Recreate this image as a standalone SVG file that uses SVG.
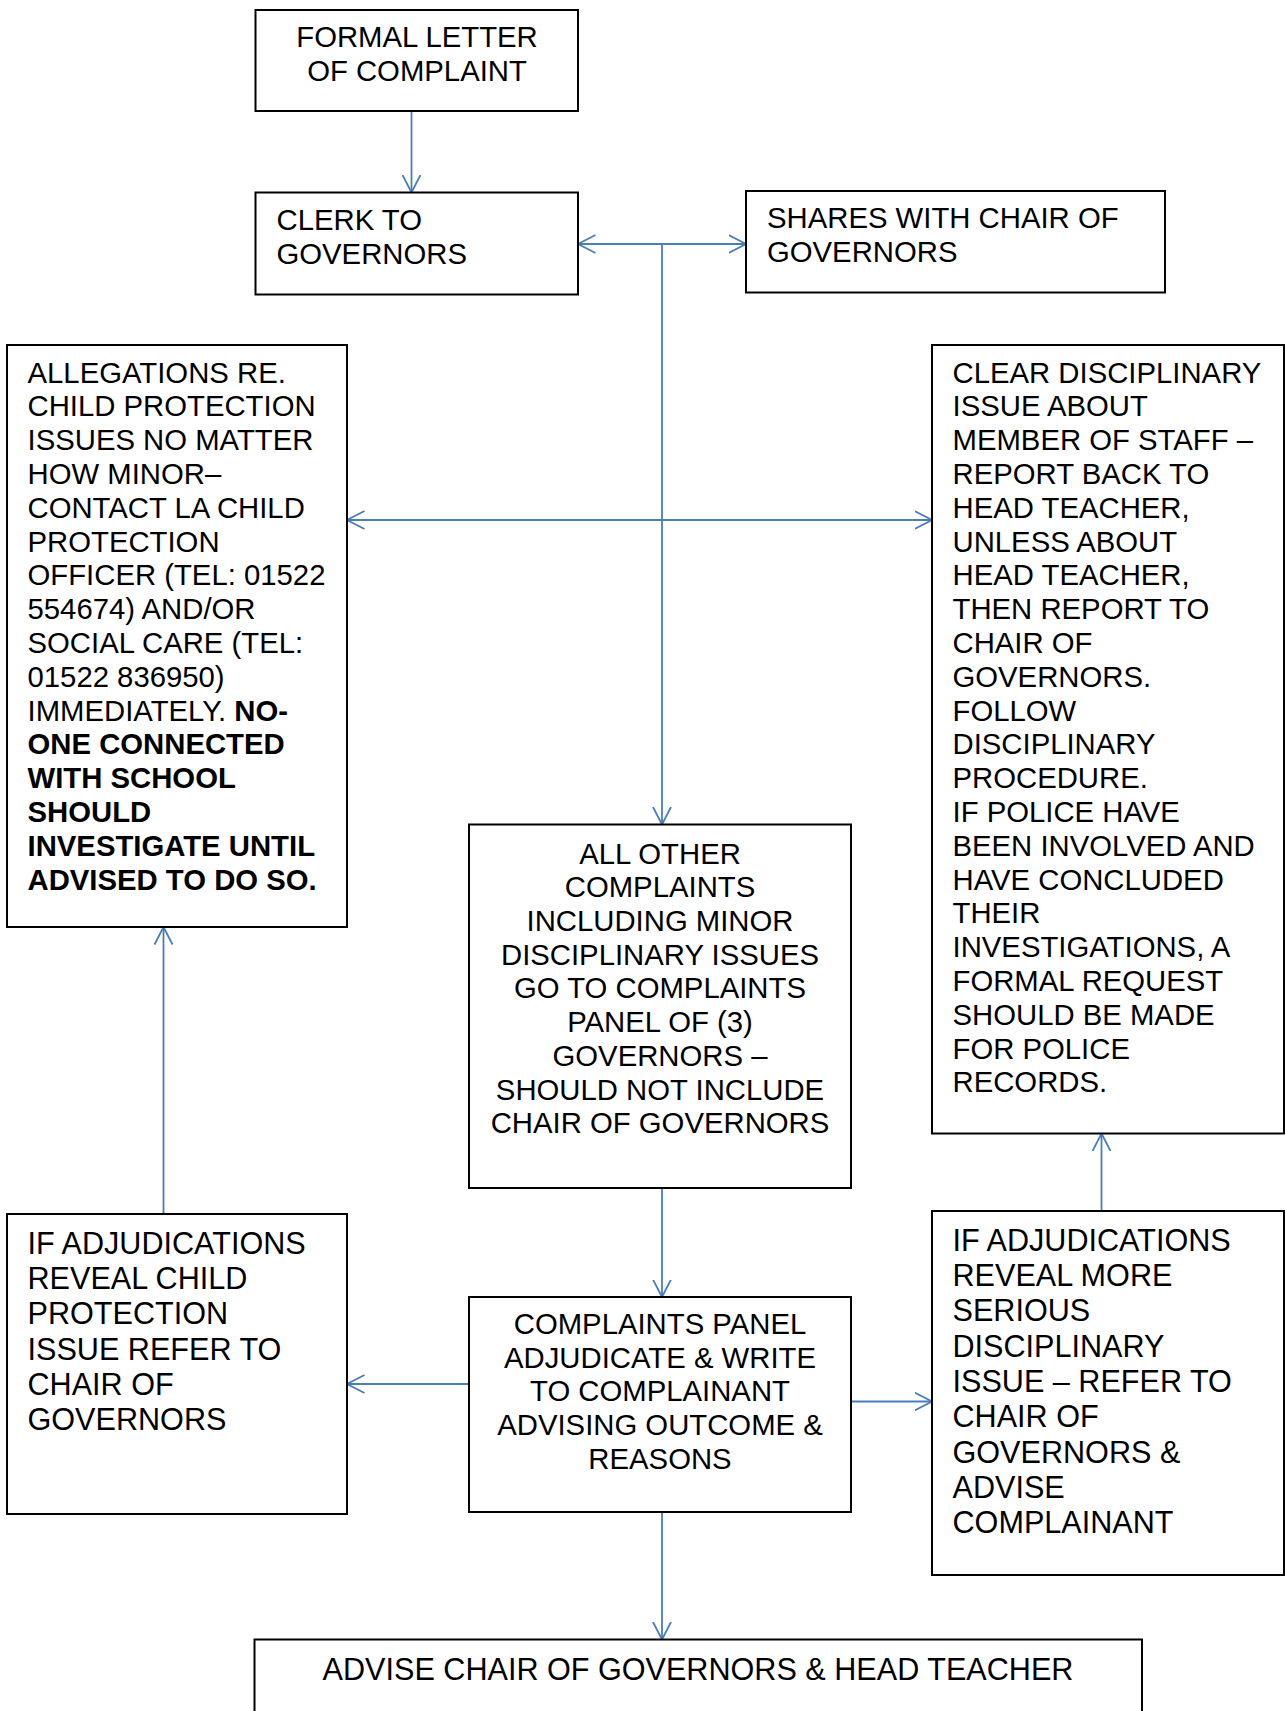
<svg xmlns="http://www.w3.org/2000/svg" width="1285" height="1711" viewBox="0 0 1285 1711">
<style>
  .box { fill: #ffffff; stroke: #000000; stroke-width: 2; }
  .t { font-family: "Liberation Sans", Arial, sans-serif; font-size: 29.3px; fill: #000000; }
  .tl { font-family: "Liberation Sans", Arial, sans-serif; font-size: 30.6px; fill: #000000; }
  .c { text-anchor: middle; }
  .b { font-weight: bold; }
  .conn { fill: none; stroke: #4A7EBB; stroke-width: 1.8; }
</style>
<defs>
  <marker id="arr" markerUnits="userSpaceOnUse" viewBox="0 0 18 20" markerWidth="18" markerHeight="20" refX="17.5" refY="10" orient="auto-start-reverse">
    <path d="M0,1 L17.5,10 L0,19" fill="none" stroke="#4A7EBB" stroke-width="1.8"/>
  </marker>
</defs>
<rect width="1285" height="1711" fill="#ffffff"/>

<g id="connectors">
  <line class="conn" x1="411.5" y1="111" x2="411.5" y2="192.5" marker-end="url(#arr)"/>
  <line class="conn" x1="578" y1="244" x2="746" y2="244" marker-start="url(#arr)" marker-end="url(#arr)"/>
  <line class="conn" x1="662" y1="244" x2="662" y2="824.5" marker-end="url(#arr)"/>
  <line class="conn" x1="347" y1="520" x2="932" y2="520" marker-start="url(#arr)" marker-end="url(#arr)"/>
  <line class="conn" x1="662" y1="1188" x2="662" y2="1297" marker-end="url(#arr)"/>
  <line class="conn" x1="163.5" y1="1214" x2="163.5" y2="927" marker-end="url(#arr)"/>
  <line class="conn" x1="469" y1="1384" x2="347" y2="1384" marker-end="url(#arr)"/>
  <line class="conn" x1="851" y1="1401.5" x2="932" y2="1401.5" marker-end="url(#arr)"/>
  <line class="conn" x1="1101.5" y1="1211" x2="1101.5" y2="1133.5" marker-end="url(#arr)"/>
  <line class="conn" x1="662" y1="1512" x2="662" y2="1639.5" marker-end="url(#arr)"/>
</g>

<g id="formal-letter">
  <rect class="box" x="255.5" y="10" width="322.5" height="101"/>
  <text class="t c" x="417" y="47">FORMAL LETTER</text>
  <text class="t c" x="417" y="80.5">OF COMPLAINT</text>
</g>

<g id="clerk">
  <rect class="box" x="255.5" y="192.5" width="322.5" height="102"/>
  <text class="t" x="276.5" y="230">CLERK TO</text>
  <text class="t" x="276.5" y="264">GOVERNORS</text>
</g>

<g id="shares">
  <rect class="box" x="746" y="191" width="419" height="101.5"/>
  <text class="t" x="767" y="228">SHARES WITH CHAIR OF</text>
  <text class="t" x="767" y="261.8">GOVERNORS</text>
</g>

<g id="allegations">
  <rect class="box" x="7" y="345" width="340" height="582"/>
  <text class="t" x="27.5" y="382.5">ALLEGATIONS RE.</text>
  <text class="t" x="27.5" y="416.3">CHILD PROTECTION</text>
  <text class="t" x="27.5" y="450.1">ISSUES NO MATTER</text>
  <text class="t" x="27.5" y="483.9">HOW MINOR–</text>
  <text class="t" x="27.5" y="517.7">CONTACT LA CHILD</text>
  <text class="t" x="27.5" y="551.5">PROTECTION</text>
  <text class="t" x="27.5" y="585.3">OFFICER (TEL: 01522</text>
  <text class="t" x="27.5" y="619.1">554674) AND/OR</text>
  <text class="t" x="27.5" y="652.9">SOCIAL CARE (TEL:</text>
  <text class="t" x="27.5" y="686.7">01522 836950)</text>
  <text class="t" x="27.5" y="720.5">IMMEDIATELY. <tspan class="b">NO-</tspan></text>
  <text class="t b" x="27.5" y="754.3">ONE CONNECTED</text>
  <text class="t b" x="27.5" y="788.1">WITH SCHOOL</text>
  <text class="t b" x="27.5" y="821.9">SHOULD</text>
  <text class="t b" x="27.5" y="855.7">INVESTIGATE UNTIL</text>
  <text class="t b" x="27.5" y="889.5">ADVISED TO DO SO.</text>
</g>

<g id="clear-disciplinary">
  <rect class="box" x="932" y="345" width="352" height="788.5"/>
  <text class="t" x="952.5" y="382.5">CLEAR DISCIPLINARY</text>
  <text class="t" x="952.5" y="416.3">ISSUE ABOUT</text>
  <text class="t" x="952.5" y="450.1">MEMBER OF STAFF –</text>
  <text class="t" x="952.5" y="483.9">REPORT BACK TO</text>
  <text class="t" x="952.5" y="517.7">HEAD TEACHER,</text>
  <text class="t" x="952.5" y="551.5">UNLESS ABOUT</text>
  <text class="t" x="952.5" y="585.3">HEAD TEACHER,</text>
  <text class="t" x="952.5" y="619.1">THEN REPORT TO</text>
  <text class="t" x="952.5" y="652.9">CHAIR OF</text>
  <text class="t" x="952.5" y="686.7">GOVERNORS.</text>
  <text class="t" x="952.5" y="720.5">FOLLOW</text>
  <text class="t" x="952.5" y="754.3">DISCIPLINARY</text>
  <text class="t" x="952.5" y="788.1">PROCEDURE.</text>
  <text class="t" x="952.5" y="821.9">IF POLICE HAVE</text>
  <text class="t" x="952.5" y="855.7">BEEN INVOLVED AND</text>
  <text class="t" x="952.5" y="889.5">HAVE CONCLUDED</text>
  <text class="t" x="952.5" y="923.3">THEIR</text>
  <text class="t" x="952.5" y="957.1">INVESTIGATIONS, A</text>
  <text class="t" x="952.5" y="990.9">FORMAL REQUEST</text>
  <text class="t" x="952.5" y="1024.7">SHOULD BE MADE</text>
  <text class="t" x="952.5" y="1058.5">FOR POLICE</text>
  <text class="t" x="952.5" y="1092.3">RECORDS.</text>
</g>

<g id="all-other">
  <rect class="box" x="469" y="824.5" width="382" height="363.5"/>
  <text class="t c" x="660" y="863.6">ALL OTHER</text>
  <text class="t c" x="660" y="897.3">COMPLAINTS</text>
  <text class="t c" x="660" y="931">INCLUDING MINOR</text>
  <text class="t c" x="660" y="964.7">DISCIPLINARY ISSUES</text>
  <text class="t c" x="660" y="998.4">GO TO COMPLAINTS</text>
  <text class="t c" x="660" y="1032.1">PANEL OF (3)</text>
  <text class="t c" x="660" y="1065.8">GOVERNORS –</text>
  <text class="t c" x="660" y="1099.5">SHOULD NOT INCLUDE</text>
  <text class="t c" x="660" y="1133.2">CHAIR OF GOVERNORS</text>
</g>

<g id="child-protection-refer">
  <rect class="box" x="7" y="1214" width="340" height="300"/>
  <text class="tl" x="27.5" y="1254">IF ADJUDICATIONS</text>
  <text class="tl" x="27.5" y="1289.2">REVEAL CHILD</text>
  <text class="tl" x="27.5" y="1324.4">PROTECTION</text>
  <text class="tl" x="27.5" y="1359.6">ISSUE REFER TO</text>
  <text class="tl" x="27.5" y="1394.8">CHAIR OF</text>
  <text class="tl" x="27.5" y="1430">GOVERNORS</text>
</g>

<g id="complaints-panel">
  <rect class="box" x="469" y="1297" width="382" height="215"/>
  <text class="t c" x="660" y="1333.7">COMPLAINTS PANEL</text>
  <text class="t c" x="660" y="1367.5">ADJUDICATE &amp; WRITE</text>
  <text class="t c" x="660" y="1401.3">TO COMPLAINANT</text>
  <text class="t c" x="660" y="1435.1">ADVISING OUTCOME &amp;</text>
  <text class="t c" x="660" y="1468.9">REASONS</text>
</g>

<g id="serious-disciplinary">
  <rect class="box" x="932" y="1211" width="352" height="364"/>
  <text class="tl" x="952.5" y="1250.7">IF ADJUDICATIONS</text>
  <text class="tl" x="952.5" y="1286">REVEAL MORE</text>
  <text class="tl" x="952.5" y="1321.3">SERIOUS</text>
  <text class="tl" x="952.5" y="1356.6">DISCIPLINARY</text>
  <text class="tl" x="952.5" y="1391.9">ISSUE – REFER TO</text>
  <text class="tl" x="952.5" y="1427.2">CHAIR OF</text>
  <text class="tl" x="952.5" y="1462.5">GOVERNORS &amp;</text>
  <text class="tl" x="952.5" y="1497.8">ADVISE</text>
  <text class="tl" x="952.5" y="1533.1">COMPLAINANT</text>
</g>

<g id="advise-chair">
  <rect class="box" x="254.5" y="1639.5" width="887.5" height="90"/>
  <text class="tl c" x="698" y="1680">ADVISE CHAIR OF GOVERNORS &amp; HEAD TEACHER</text>
</g>
</svg>
